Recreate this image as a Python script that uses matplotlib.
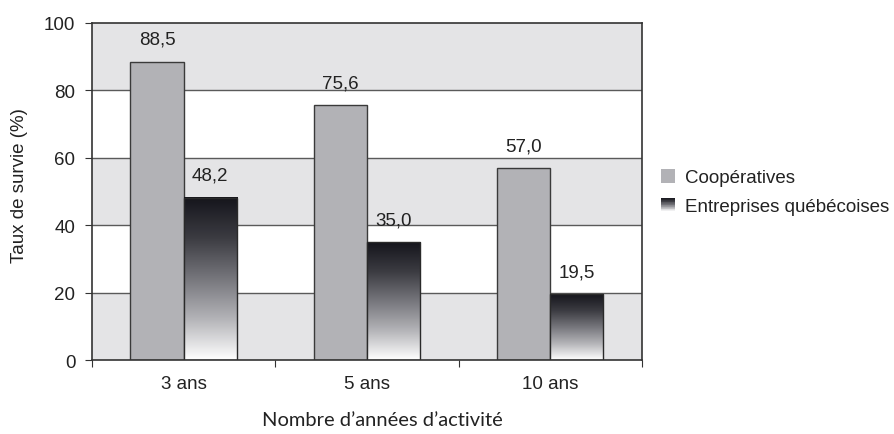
import matplotlib
matplotlib.use("Agg")
import matplotlib.pyplot as plt
import numpy as np
from matplotlib.colors import LinearSegmentedColormap
from matplotlib.patches import Rectangle
from matplotlib.legend_handler import HandlerBase

categories = ["3 ans", "5 ans", "10 ans"]
coop = [88.5, 75.6, 57.0]
entreprises = [48.2, 35.0, 19.5]
series_names = ["Coopératives", "Entreprises québécoises"]
yticks = [0, 20, 40, 60, 80, 100]

plt.rcParams['font.family'] = ['Liberation Sans', 'DejaVu Sans']
FS = 13.5

fig = plt.figure(figsize=(8.95, 4.35), dpi=100)
ax = fig.add_axes([92/895, 1-361/435, (642-92)/895, (361-24)/435])

band = "#e4e4e6"
for lo in (0, 40, 80):
    ax.axhspan(lo, lo+20, color=band, zorder=0, lw=0)
for g in (20, 40, 60, 80):
    ax.axhline(g, color="#5a5a5a", lw=1.0, zorder=1)

cmap = LinearSegmentedColormap.from_list("grad", ["#ffffff", "#b4b4b8", "#76767c", "#3c3c42", "#15151c"])
grad = np.linspace(0, 1, 256).reshape(-1, 1)

w = 0.29
x = np.arange(len(categories))
bars1 = ax.bar(x - w/2, coop, w, color="#b2b2b6", edgecolor="#3a3a3a", lw=1.0, zorder=2)
bars2 = ax.bar(x + w/2, entreprises, w, color="none", edgecolor="#2a2a2a", lw=1.0, zorder=4)
for b in bars2:
    x0, y0 = b.get_x(), b.get_y()
    ax.imshow(grad, extent=[x0, x0 + b.get_width(), y0, y0 + b.get_height()],
              origin="lower", cmap=cmap, aspect="auto", zorder=3, interpolation="bilinear")

def fmt(v):
    return f"{v:.1f}".replace(".", ",")

for bars, vals in ((bars1, coop), (bars2, entreprises)):
    for b, v in zip(bars, vals):
        ax.annotate(fmt(v), (b.get_x() + b.get_width()/2, v), xytext=(0, 10),
                    textcoords="offset points", ha="center", va="bottom", fontsize=FS, color="#222222")

ax.set_xlim(-0.5, len(categories) - 0.5)
ax.set_ylim(0, 100)
ax.set_yticks(yticks)
ax.set_yticklabels([str(t) for t in yticks], fontsize=FS, color="#222222")
ax.set_xticks(np.arange(len(categories) + 1) - 0.5)
ax.set_xticklabels([""] * (len(categories) + 1))
ax.set_xticks(x, minor=True)
ax.set_xticklabels(categories, minor=True, fontsize=FS, color="#222222")
ax.tick_params(axis="x", which="minor", length=0, pad=11)
ax.tick_params(axis="x", which="major", length=5, color="#333333", direction="out")
ax.tick_params(axis="y", length=5, color="#333333", direction="out", pad=7)
for s in ax.spines.values():
    s.set_color("#333333")
    s.set_linewidth(1.2)
    s.set_zorder(5)

ax.text((20-92)/550, (361-186)/337, "Taux de survie (%)", rotation=90, ha="center", va="center",
        fontsize=FS, color="#222222", transform=ax.transAxes)
ax.text((382-92)/550, (361-420)/337, "Nombre d’années d’activité", ha="center", va="center",
        fontsize=14.5, family=["Lato", "DejaVu Sans"], color="#222222", transform=ax.transAxes)

class GradHandler(HandlerBase):
    def create_artists(self, legend, orig_handle, xd, yd, width, height, fontsize, trans):
        arts = []
        n = 20
        s = min(width, height)
        for i in range(n):
            c = cmap(i/(n-1))
            r = Rectangle((-xd + (width - s)/2, -yd + (height - s)/2 + s*i/n), s, s/n + 0.05,
                          facecolor=c, edgecolor="none", transform=trans)
            arts.append(r)
        return arts

class SqHandler(HandlerBase):
    def create_artists(self, legend, orig_handle, xd, yd, width, height, fontsize, trans):
        s = min(width, height)
        return [Rectangle((-xd + (width - s)/2, -yd + (height - s)/2), s, s,
                          facecolor=orig_handle.get_facecolor(), edgecolor="none", transform=trans)]

h1 = Rectangle((0, 0), 1, 1, facecolor="#b2b2b6")
h2 = Rectangle((0, 0), 1, 1, facecolor="#333333")
leg = fig.legend([h1, h2], series_names, loc="upper left", bbox_to_anchor=(661/895, 1-170/435),
                 frameon=False, fontsize=FS, handler_map={h1: SqHandler(), h2: GradHandler()},
                 handlelength=0.75, handleheight=0.75, handletextpad=0.55, labelspacing=0.6,
                 borderaxespad=0, borderpad=0)
for t in leg.get_texts():
    t.set_color("#222222")

fig.savefig("out.png", dpi=100)
